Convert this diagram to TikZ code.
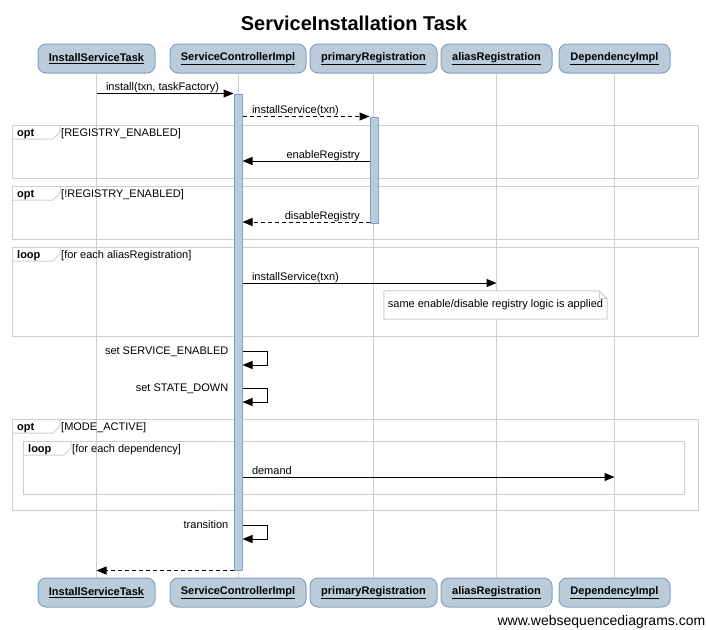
\documentclass[tikz,border=0pt]{standalone}
\usepackage{fontspec}
\setmainfont{Liberation Sans}
\usetikzlibrary{arrows.meta}
\definecolor{boxfill}{RGB}{186,204,218}
\definecolor{boxline}{RGB}{136,160,192}
\definecolor{frameline}{RGB}{206,206,206}
\tikzset{
  actor/.style={draw=boxline, fill=boxfill, line width=1pt, rounded corners=8pt,
    minimum height=29pt, inner sep=0pt, font=\fontsize{11}{13}\selectfont\bfseries},
  bar/.style={draw=boxline, fill=boxfill, line width=1pt, minimum width=8pt, inner sep=0pt},
  lifeline/.style={draw=frameline, line width=1pt},
  frame/.style={draw=frameline, line width=1pt},
  msg/.style={-{Triangle[length=10pt,width=8pt]}, line width=1pt},
  reply/.style={msg, dash pattern=on 4pt off 3pt},
  lbl/.style={font=\fontsize{11}{13}\selectfont, inner sep=0pt},
}
\begin{document}
\begin{tikzpicture}[x=1pt, y=-1pt]
    \useasboundingbox (0,0) rectangle (706,629);

    \node (title) [anchor=base, font=\fontsize{20}{24}\selectfont\bfseries] at (354,30.5) {ServiceInstallation Task};

    \node (ttask) [actor, minimum width=117pt] at (96.5,58.5) {\underline{InstallServiceTask}};
    \node (tsci) [actor, minimum width=136pt] at (238,58.5) {\underline{ServiceControllerImpl}};
    \node (tprim) [actor, minimum width=127pt] at (373.5,58.5) {\underline{primaryRegistration}};
    \node (talias) [actor, minimum width=111pt] at (496.5,58.5) {\underline{aliasRegistration}};
    \node (tdep) [actor, minimum width=111pt] at (614.5,58.5) {\underline{DependencyImpl}};

    \node (btask) [actor, minimum width=117pt] at (96.5,592.5) {\underline{InstallServiceTask}};
    \node (bsci) [actor, minimum width=136pt] at (238,592.5) {\underline{ServiceControllerImpl}};
    \node (bprim) [actor, minimum width=127pt] at (373.5,592.5) {\underline{primaryRegistration}};
    \node (balias) [actor, minimum width=111pt] at (496.5,592.5) {\underline{aliasRegistration}};
    \node (bdep) [actor, minimum width=111pt] at (614.5,592.5) {\underline{DependencyImpl}};

    \foreach \p in {task,sci,prim,alias,dep}
        \draw[lifeline] (t\p.south) -- (b\p.north);

    \foreach \fl/\ft/\fr/\fb/\kind/\cond in {
        12/125/698/178/opt/{[REGISTRY\_ENABLED]},
        12/186/698/239/opt/{[!REGISTRY\_ENABLED]},
        12/247/698/336/loop/{[for each aliasRegistration]},
        12/419/698/510/opt/{[MODE\_ACTIVE]},
        23/441/684/494/loop/{[for each dependency]}}
    {
        \draw[frame] (\fl,\ft) rectangle (\fr,\fb);
        \draw[frame] (\fl,\ft+14) -- (\fl+41,\ft+14) -- (\fl+48,\ft+7) -- (\fl+48,\ft);
        \node [lbl, font=\fontsize{11}{13}\selectfont\bfseries, anchor=base west] at (\fl+5,\ft+11) {\kind};
        \node [lbl, anchor=base west] at (\fl+49,\ft+11) {\cond};
    }

    \node (barsci) [bar, minimum height=476pt] at (238,332) {};
    \node (barprim) [bar, minimum height=106pt] at (374,170) {};

    \coordinate (yenable) at (0,161);
    \coordinate (ydisable) at (0,222);
    \coordinate (yalias) at (0,283);
    \coordinate (ydemand) at (0,477);

    \path[msg] (ttask |- barsci.north) edge node [lbl, pos=0, anchor=base west, xshift=9pt, yshift=3pt] {install(txn, taskFactory)} (barsci.north west);
    \path[reply] (barsci.east |- barprim.north) edge node [lbl, pos=0, anchor=base west, xshift=9pt, yshift=3pt] {installService(txn)} (barprim.north west);
    \path[msg] (barprim.west |- yenable) edge node [lbl, pos=0, anchor=base east, xshift=-9pt, yshift=3pt] {enableRegistry} (barsci.east |- yenable);
    \path[reply] (barprim.west |- ydisable) edge node [lbl, pos=0, anchor=base east, xshift=-9pt, yshift=3pt] {disableRegistry} (barsci.east |- ydisable);
    \path[msg] (barsci.east |- yalias) edge node [lbl, pos=0, anchor=base west, xshift=9pt, yshift=3pt] {installService(txn)} (talias |- yalias);
    \path[msg] (barsci.east |- ydemand) edge node [lbl, pos=0, anchor=base west, xshift=9pt, yshift=3pt] {demand} (tdep |- ydemand);
    \path[reply] (barsci.south west) edge (ttask |- barsci.south);

    \node (note) [lbl, fill=white, minimum width=223pt, minimum height=28pt] at (495.5,305) {same enable/disable registry logic is applied};
    \draw[frame] (note.north west) -- ([xshift=-8pt]note.north east) -- ([yshift=-8pt]note.north east) -- (note.south east) -- (note.south west) -- cycle;
    \draw[frame] ([xshift=-8pt]note.north east) |- ([yshift=-8pt]note.north east);

    \foreach \lev/\txt in {351/set SERVICE\_ENABLED, 388/set STATE\_DOWN, 525/transition} {
        \coordinate (self) at (barsci.east |- 0,\lev);
        \draw[msg] (self) -- ++(25,0) -- ++(0,14) -- ++(-25,0);
        \node [lbl, anchor=base east] at ([xshift=-14pt, yshift=-3.5pt]self) {\txt};
    }

    \node (wsd) [anchor=base east, inner sep=0pt, font=\fontsize{14}{16}\selectfont] at (705.5,625) {www.websequencediagrams.com};

\end{tikzpicture}
\end{document}
